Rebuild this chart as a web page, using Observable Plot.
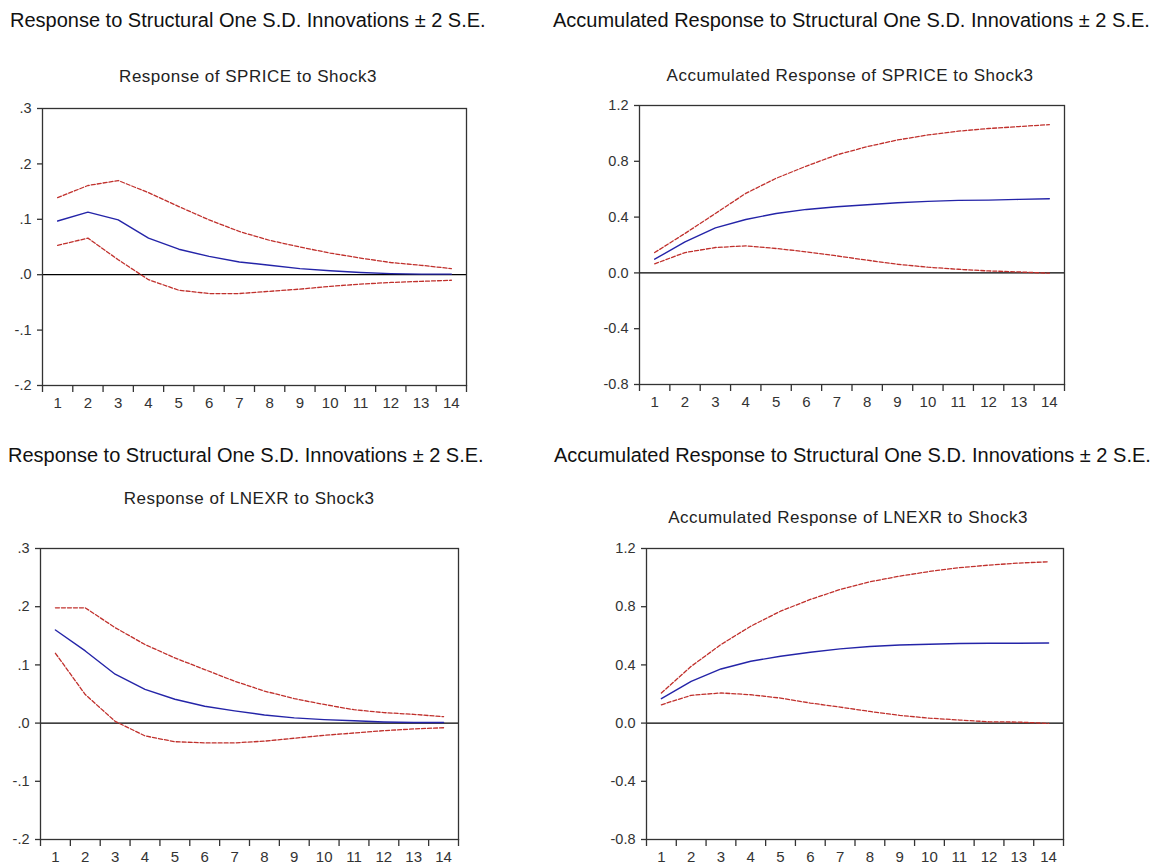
<!DOCTYPE html>
<html>
<head>
<meta charset="utf-8">
<script src="https://cdn.jsdelivr.net/npm/d3@7"></script>
<script src="https://cdn.jsdelivr.net/npm/@observablehq/plot@0.6"></script>
<style>
  html, body { margin: 0; padding: 0; background: #fff; }
  #root { position: relative; width: 1158px; height: 867px; overflow: hidden; font-family: "Liberation Sans", Arial, sans-serif; }
  .title { position: absolute; font-size: 20px; line-height: 20px; color: #111; white-space: nowrap; }
  .sub { position: absolute; font-size: 17px; line-height: 18px; letter-spacing: 0.5px; color: #222; white-space: nowrap; transform: translateX(-50%); }
  .panel { position: absolute; }
</style>
</head>
<body>
<div id="root"></div>
<script>
// ---- data ----
const periods = [1, 2, 3, 4, 5, 6, 7, 8, 9, 10, 11, 12, 13, 14];
const periodBounds = [0.5, 1.5, 2.5, 3.5, 4.5, 5.5, 6.5, 7.5, 8.5, 9.5, 10.5, 11.5, 12.5, 13.5, 14.5];

const mainTitles = [
  "Response to Structural One S.D. Innovations \u00b1 2 S.E.",
  "Accumulated Response to Structural One S.D. Innovations \u00b1 2 S.E.",
  "Response to Structural One S.D. Innovations \u00b1 2 S.E.",
  "Accumulated Response to Structural One S.D. Innovations \u00b1 2 S.E."
];
const subTitles = [
  "Response of SPRICE to Shock3",
  "Accumulated Response of SPRICE to Shock3",
  "Response of LNEXR to Shock3",
  "Accumulated Response of LNEXR to Shock3"
];

const respTicks = [-0.2, -0.1, 0, 0.1, 0.2, 0.3];
const respTickLabels = ["-.2", "-.1", ".0", ".1", ".2", ".3"];
const accTicks = [-0.8, -0.4, 0, 0.4, 0.8, 1.2];
const accTickLabels = ["-0.8", "-0.4", "0.0", "0.4", "0.8", "1.2"];

const spriceMid = [0.097, 0.113, 0.099, 0.066, 0.046, 0.033, 0.023, 0.017, 0.011, 0.007, 0.004, 0.002, 0.001, 0.001];
const spriceUp  = [0.139, 0.161, 0.170, 0.148, 0.123, 0.099, 0.078, 0.062, 0.050, 0.039, 0.030, 0.022, 0.017, 0.011];
const spriceLo  = [0.053, 0.066, 0.027, -0.009, -0.028, -0.034, -0.034, -0.030, -0.026, -0.021, -0.017, -0.014, -0.012, -0.010];

const accSpriceMid = [0.098, 0.223, 0.323, 0.383, 0.426, 0.455, 0.474, 0.489, 0.503, 0.513, 0.520, 0.522, 0.527, 0.532];
const accSpriceUp  = [0.146, 0.283, 0.426, 0.570, 0.678, 0.766, 0.846, 0.905, 0.953, 0.989, 1.016, 1.035, 1.049, 1.063];
const accSpriceLo  = [0.065, 0.146, 0.182, 0.194, 0.175, 0.151, 0.122, 0.091, 0.062, 0.041, 0.026, 0.014, 0.007, -0.002];

const lnexrMid = [0.160, 0.124, 0.084, 0.058, 0.041, 0.029, 0.021, 0.014, 0.009, 0.006, 0.004, 0.002, 0.001, 0.001];
const lnexrUp  = [0.198, 0.198, 0.164, 0.135, 0.112, 0.092, 0.072, 0.055, 0.042, 0.032, 0.023, 0.018, 0.015, 0.011];
const lnexrLo  = [0.120, 0.049, 0.003, -0.022, -0.032, -0.034, -0.034, -0.031, -0.026, -0.021, -0.017, -0.013, -0.010, -0.008];

const accLnexrMid = [0.168, 0.287, 0.372, 0.425, 0.459, 0.487, 0.510, 0.526, 0.537, 0.542, 0.547, 0.549, 0.549, 0.551];
const accLnexrUp  = [0.207, 0.390, 0.540, 0.666, 0.769, 0.850, 0.918, 0.971, 1.010, 1.042, 1.068, 1.086, 1.100, 1.109];
const accLnexrLo  = [0.126, 0.191, 0.207, 0.195, 0.172, 0.138, 0.110, 0.080, 0.053, 0.034, 0.021, 0.009, 0.007, -0.002];

// ---- layout ----
const root = document.getElementById("root");
const rows = (arr) => periods.map((p, i) => ({p, v: arr[i]}));

function addDiv(cls, text, left, top) {
  const d = document.createElement("div");
  d.className = cls;
  d.textContent = text;
  d.style.left = left + "px";
  d.style.top = top + "px";
  root.appendChild(d);
  return d;
}

function panel(cfg) {
  const {box, frame, ticks, labels, domain, mid, up, lo} = cfg;
  const chart = Plot.plot({
    width: box.w, height: box.h,
    marginLeft: frame.l - box.x,
    marginTop: frame.t - box.y,
    marginRight: box.x + box.w - frame.r,
    marginBottom: box.y + box.h - frame.b,
    style: {fontFamily: "'Liberation Sans', Arial, sans-serif", fontSize: "14px", color: "#333", background: "transparent", overflow: "visible"},
    x: {domain: [0.5, 14.5], label: null},
    y: {domain, label: null},
    marks: [
      Plot.ruleY([0], {stroke: "#000", strokeWidth: 1.3}),
      Plot.line(rows(up), {x: "p", y: "v", stroke: "#c0302c", strokeWidth: 1.3, strokeDasharray: "4,2"}),
      Plot.line(rows(lo), {x: "p", y: "v", stroke: "#c0302c", strokeWidth: 1.3, strokeDasharray: "4,2"}),
      Plot.line(rows(mid), {x: "p", y: "v", stroke: "#2424a8", strokeWidth: 1.4}),
      Plot.frame({stroke: "#333", strokeWidth: 1.3}),
      Plot.axisY({ticks, tickFormat: (d) => labels[ticks.findIndex((t) => Math.abs(t - d) < 1e-9)], tickSize: 5, tickPadding: 6, fontSize: 14.5, label: null, stroke: "#333", strokeWidth: 1.3}),
      Plot.axisX({ticks: periodBounds, tickFormat: () => "", tickSize: 7, label: null, stroke: "#333", strokeWidth: 1.3}),
      Plot.axisX({ticks: periods, tickSize: 0, tickPadding: 12, fontSize: 15, label: null})
    ]
  });
  chart.classList.add("panel");
  chart.style.left = box.x + "px";
  chart.style.top = box.y + "px";
  root.appendChild(chart);
}

panel({box: {x: 0, y: 95, w: 490, h: 325}, frame: {l: 42, t: 108, r: 466, b: 385},
  ticks: respTicks, labels: respTickLabels, domain: [-0.2, 0.3], mid: spriceMid, up: spriceUp, lo: spriceLo});
panel({box: {x: 580, y: 95, w: 500, h: 325}, frame: {l: 639, t: 105, r: 1064, b: 384},
  ticks: accTicks, labels: accTickLabels, domain: [-0.8, 1.2], mid: accSpriceMid, up: accSpriceUp, lo: accSpriceLo});
panel({box: {x: 0, y: 535, w: 490, h: 332}, frame: {l: 40, t: 548, r: 458, b: 839},
  ticks: respTicks, labels: respTickLabels, domain: [-0.2, 0.3], mid: lnexrMid, up: lnexrUp, lo: lnexrLo});
panel({box: {x: 580, y: 535, w: 500, h: 332}, frame: {l: 646, t: 548, r: 1063, b: 839},
  ticks: accTicks, labels: accTickLabels, domain: [-0.8, 1.2], mid: accLnexrMid, up: accLnexrUp, lo: accLnexrLo});

addDiv("title", mainTitles[0], 10, 10);
addDiv("title", mainTitles[1], 553, 10);
addDiv("title", mainTitles[2], 8, 445);
addDiv("title", mainTitles[3], 554, 445);

addDiv("sub", subTitles[0], 248, 68);
addDiv("sub", subTitles[1], 850, 67);
addDiv("sub", subTitles[2], 249, 490);
addDiv("sub", subTitles[3], 848, 509);
</script>
</body>
</html>
